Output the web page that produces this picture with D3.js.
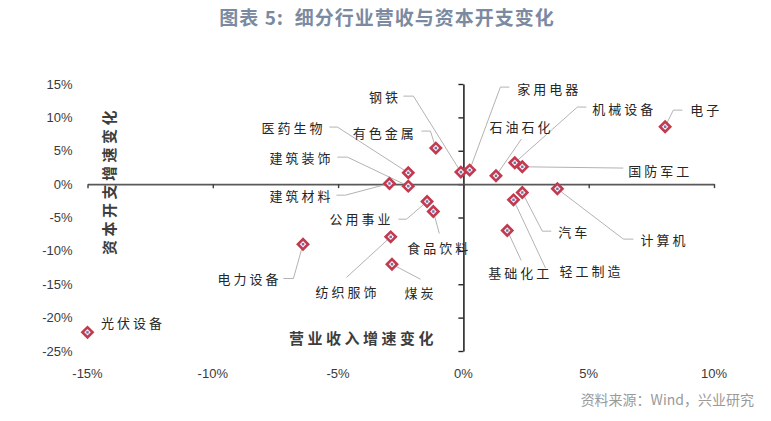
<!DOCTYPE html>
<html>
<head>
<meta charset="utf-8">
<script src="https://cdn.jsdelivr.net/npm/d3@7"></script>
<style>
  html, body { margin: 0; padding: 0; background: #fff; }
  svg { display: block; }
</style>
</head>
<body>
<svg id="chart" width="771" height="421"></svg>
<script>
// ---- data ----
const industries = ["钢铁","家用电器","有色金属","医药生物","建筑装饰","建筑材料","公用事业","食品饮料",
  "石油石化","机械设备","国防军工","电子","计算机","汽车","轻工制造","基础化工","电力设备","纺织服饰","煤炭","光伏设备"];
const revenueGrowthChange = [-0.1, 0.25, -1.1, -2.2, -2.2, -2.95, -1.45, -1.2,
  1.3, 2.05, 2.35, 8.05, 3.75, 2.35, 2.0, 1.75, -6.4, -2.9, -2.85, -15.0];
const capexGrowthChange = [1.8, 2.1, 5.4, 1.7, -0.3, 0.1, -2.6, -4.1,
  1.25, 3.2, 2.6, 8.6, -0.7, -1.25, -2.35, -6.95, -9.0, -7.9, -12.0, -22.2];
const xTicks = [-15, -10, -5, 0, 5, 10];
const yTicks = [15, 10, 5, 0, -5, -10, -15, -20, -25];
const xTickLabels = ["-15%","-10%","-5%","0%","5%","10%"];
const yTickLabels = ["15%","10%","5%","0%","-5%","-10%","-15%","-20%","-25%"];

// ---- label layout (pixel offsets from each point) ----
const labelLayout = {
  "钢铁":   {a:"end",   t:[-60,-75], l:[[-47.5,-76],[-57.5,-76]]},
  "家用电器": {a:"start", t:[47.7,-81], l:[[30.7,-83],[39.7,-83]]},
  "有色金属": {a:"end",   t:[-19,-15], l:[[-5.4,-17],[-14.4,-17]]},
  "医药生物": {a:"end",   t:[-82.8,-44.7], l:[[-70.8,-45.7],[-78.8,-45.7]]},
  "建筑装饰": {a:"end",   t:[-74.8,-28], l:[[-60.8,-29],[-70.8,-29]]},
  "建筑材料": {a:"end",   t:[-56,12.7], l:[[-44,11.7],[-53,11.7]]},
  "公用事业": {a:"end",   t:[-33.6,17.7], l:[[-20.6,17.7],[-28.6,17.7]]},
  "食品饮料": {a:"start", t:[-26,37], l:[[6,22]]},
  "石油石化": {a:"start", t:[-6.6,-48.7], l:[[25.4,-36.7]]},
  "机械设备": {a:"start", t:[77.6,-53.7], l:[[62.6,-55.7],[71.6,-55.7]]},
  "国防军工": {a:"start", t:[106,4.3], l:[[101,1.3]]},
  "电子":   {a:"start", t:[25.2,-16.6], l:[[8.2,-16.6],[17.2,-16.6]]},
  "计算机":  {a:"start", t:[83,51.3], l:[[66,50.3],[76,50.3]]},
  "汽车":   {a:"start", t:[36,39.7], l:[[20,38.7],[29,38.7]]},
  "轻工制造": {a:"start", t:[46,72], l:[[32,68.3]]},
  "基础化工": {a:"start", t:[-19,43], l:[[14,30]]},
  "电力设备": {a:"end",   t:[-21.6,35.3], l:[[-9.6,34.3],[-19.6,34.3]]},
  "纺织服饰": {a:"start", t:[-75.3,56], l:[[-44.3,40.6]]},
  "煤炭":   {a:"start", t:[12.5,29], l:[[28.5,15]]},
  "光伏设备": {a:"start", t:[13.5,-9], l:[]}
};

const data = industries.map((name, i) => ({name, x: revenueGrowthChange[i], y: capexGrowthChange[i]}));

const svg = d3.select("#chart");
const x = d3.scaleLinear().domain([-15, 10]).range([87.5, 714]);
const y = d3.scaleLinear().domain([-25, 15]).range([351, 84]);

// Title
svg.append("text")
  .attr("x", 387).attr("y", 18).attr("dy", "0.35em")
  .attr("text-anchor", "middle")
  .attr("font-family", "'Noto Sans CJK SC', 'Noto Sans', sans-serif")
  .attr("font-weight", "bold").attr("font-size", 19)
  .attr("letter-spacing", "1px")
  .style("white-space", "pre")
  .attr("fill", "#7b8aa1")
  .text("图表 5:  细分行业营收与资本开支变化");

// Y axis (at x = 0)
const yAxis = svg.append("g")
  .attr("transform", `translate(${x(0)},0)`)
  .call(d3.axisLeft(y).tickValues(yTicks).tickSize(5).tickFormat("").tickSizeOuter(0));
yAxis.select(".domain").attr("stroke", "#262626").attr("stroke-width", 1.6);
yAxis.selectAll(".tick line").attr("stroke", "#262626").attr("stroke-width", 1.4);

// X axis (at y = 0)
const xAxis = svg.append("g")
  .attr("transform", `translate(0,${y(0)})`)
  .call(d3.axisBottom(x).tickValues(xTicks).tickSize(4).tickFormat("").tickSizeOuter(0));
xAxis.select(".domain").attr("stroke", "#595959").attr("stroke-width", 1.8);
xAxis.selectAll(".tick line").attr("stroke", "#404040").attr("stroke-width", 1.4);

// Tick labels
const tickFont = "'Liberation Sans', Arial, sans-serif";
svg.append("g").selectAll("text").data(yTicks).join("text")
  .attr("x", 72.5).attr("y", d => y(d)).attr("dy", "0.35em")
  .attr("text-anchor", "end")
  .attr("font-family", tickFont).attr("font-size", 13).attr("fill", "#3a3a3a")
  .text((d, i) => yTickLabels[i]);
svg.append("g").selectAll("text").data(xTicks).join("text")
  .attr("x", d => x(d)).attr("y", 373).attr("dy", "0.35em")
  .attr("text-anchor", "middle")
  .attr("font-family", tickFont).attr("font-size", 13).attr("fill", "#3a3a3a")
  .text((d, i) => xTickLabels[i]);

// Axis titles
const cjk = "'Noto Sans CJK SC', 'Noto Sans', sans-serif";
svg.append("text")
  .attr("transform", "translate(110,181) rotate(-90)")
  .attr("text-anchor", "middle").attr("dy", "0.35em")
  .attr("font-family", cjk).attr("font-weight", "bold").attr("font-size", 15)
  .attr("letter-spacing", "3.5px")
  .attr("fill", "#3d3d3d")
  .text("资本开支增速变化");
svg.append("text")
  .attr("x", 363).attr("y", 339).attr("dy", "0.35em")
  .attr("text-anchor", "middle")
  .attr("font-family", cjk).attr("font-weight", "bold").attr("font-size", 15)
  .attr("letter-spacing", "3.5px")
  .attr("fill", "#3d3d3d")
  .text("营业收入增速变化");

// Leader lines
const gLead = svg.append("g");
data.forEach(d => {
  const L = labelLayout[d.name];
  if (!L || !L.l.length) return;
  const px = x(d.x), py = y(d.y);
  const pts = [[px, py]].concat(L.l.map(o => [px + o[0], py + o[1]]));
  gLead.append("path")
    .attr("d", d3.line()(pts))
    .attr("fill", "none").attr("stroke", "#b3b3b3").attr("stroke-width", 1);
});

// Labels
svg.append("g").selectAll("text").data(data).join("text")
  .attr("x", d => x(d.x) + labelLayout[d.name].t[0])
  .attr("y", d => y(d.y) + labelLayout[d.name].t[1])
  .attr("dy", "0.35em")
  .attr("text-anchor", d => labelLayout[d.name].a)
  .attr("font-family", cjk).attr("font-size", 13)
  .attr("letter-spacing", "3px")
  .attr("fill", "#262626")
  .text(d => d.name);

// Markers (diamonds)
const gm = svg.append("g").selectAll("g").data(data).join("g")
  .attr("transform", d => `translate(${x(d.x)},${y(d.y)})`);
gm.append("rect")
  .attr("x", -3.6).attr("y", -3.6).attr("width", 7.2).attr("height", 7.2)
  .attr("transform", "rotate(45)")
  .attr("fill", "#f4eef2").attr("stroke", "#c23a50").attr("stroke-width", 2.6);
gm.append("rect")
  .attr("x", -1.2).attr("y", -1.2).attr("width", 2.4).attr("height", 2.4)
  .attr("fill", "#6b74a8");

// Source
svg.append("text")
  .attr("x", 754).attr("y", 400).attr("dy", "0.35em")
  .attr("text-anchor", "end")
  .attr("font-family", cjk).attr("font-size", 14)
  .attr("fill", "#9a9a9a")
  .text("资料来源：Wind，兴业研究");
</script>
</body>
</html>
